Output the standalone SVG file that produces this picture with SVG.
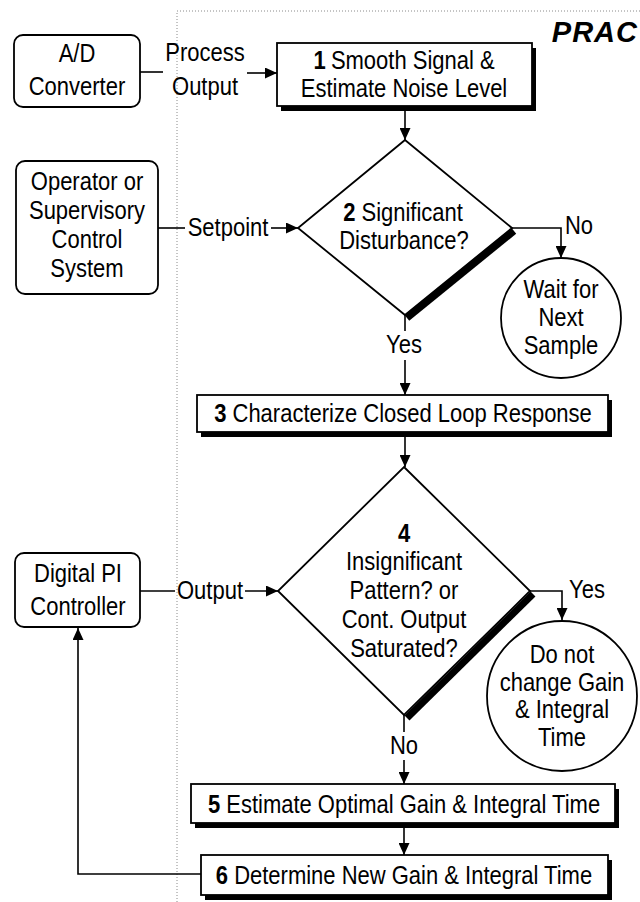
<svg xmlns="http://www.w3.org/2000/svg" width="640" height="902" viewBox="0 0 640 902">
  <style>
    text { font-family: "Liberation Sans", Arial, sans-serif; font-size: 25px; fill: #000; text-anchor: middle; }
    .t { transform-box: fill-box; transform-origin: center; transform: scaleX(0.88); }
    .b { font-weight: bold; }
    .title { font-size: 29px; font-weight: bold; font-style: italic; text-anchor: end; letter-spacing: 1px; }
    .box { fill: #fff; stroke: #000; stroke-width: 1.8; }
    .shadow { fill: #000; }
    .term { fill: #fff; stroke: #000; stroke-width: 1.8; }
    .dec { fill: #fff; stroke: #000; stroke-width: 1.8; }
    .heavy { fill: none; stroke: #000; stroke-width: 7; stroke-linecap: butt; }
    .ln { fill: none; stroke: #000; stroke-width: 1.6; }
    .arr { marker-end: url(#head); }
    .frame { fill: none; stroke: #8a8a8a; stroke-width: 1; stroke-dasharray: 1 2; }
  </style>
  <defs>
    <marker id="head" markerUnits="userSpaceOnUse" viewBox="0 0 12 11" refX="12" refY="5.5" markerWidth="12" markerHeight="11" orient="auto">
      <path d="M0,0 L12,5.5 L0,11 Z" fill="#000"/>
    </marker>
  </defs>

  <!-- dotted boundary of the PRAC block -->
  <path class="frame" d="M177,902 V11 H640"/>
  <text class="title" x="638" y="42">PRAC</text>

  <!-- connectors -->
  <g id="connectors">
    <path class="ln" d="M140,72 H163"/>
    <path class="ln arr" d="M247,73 H277"/>
    <path class="ln arr" d="M405,111 V140"/>
    <path class="ln" d="M158,228 H185"/>
    <path class="ln arr" d="M271,228 H298"/>
    <path class="ln arr" d="M512,228 H561 V258"/>
    <path class="ln" d="M405,315 V331"/>
    <path class="ln arr" d="M405,360 V395"/>
    <path class="ln arr" d="M405,437 V467"/>
    <path class="ln" d="M140,591 H175"/>
    <path class="ln arr" d="M245,591 H278"/>
    <path class="ln arr" d="M530,591 H562 V620"/>
    <path class="ln" d="M404,715 V732"/>
    <path class="ln arr" d="M404,760 V784"/>
    <path class="ln arr" d="M404,828 V855"/>
    <path class="ln arr" d="M201,874 H78 V628"/>
    <text class="t" x="205" y="61">Process</text>
    <text class="t" x="205" y="95">Output</text>
    <text class="t" x="228" y="236">Setpoint</text>
    <text class="t" x="579" y="234">No</text>
    <text class="t" x="404" y="353">Yes</text>
    <text class="t" x="210" y="599">Output</text>
    <text class="t" x="587" y="598">Yes</text>
    <text class="t" x="404" y="754">No</text>
  </g>

  <!-- external sources -->
  <g id="ad-converter">
    <rect class="term" x="14" y="35" width="126" height="72" rx="9"/>
    <text class="t" x="77" y="62">A/D</text>
    <text class="t" x="77" y="95">Converter</text>
  </g>
  <g id="operator">
    <rect class="term" x="16" y="161" width="142" height="133" rx="9"/>
    <text class="t" x="87" y="190">Operator or</text>
    <text class="t" x="87" y="219">Supervisory</text>
    <text class="t" x="87" y="248">Control</text>
    <text class="t" x="87" y="277">System</text>
  </g>
  <g id="pi-controller">
    <rect class="term" x="15" y="553" width="125" height="74" rx="9"/>
    <text class="t" x="78" y="582">Digital PI</text>
    <text class="t" x="78" y="615">Controller</text>
  </g>

  <!-- step 1 -->
  <g id="step1">
    <rect class="shadow" x="281" y="48" width="255" height="63"/>
    <rect class="box" x="277" y="43" width="255" height="63"/>
    <text class="t" x="404" y="69"><tspan class="b">1</tspan><tspan dx="6">Smooth Signal &amp;</tspan></text>
    <text class="t" x="404" y="97">Estimate Noise Level</text>
  </g>

  <!-- step 2 decision -->
  <g id="step2">
    <path class="dec" d="M405,140 L512,228 L405,315 L298,228 Z"/>
    <path class="heavy" d="M514,231 L407,318"/>
    <text class="t" x="403" y="221"><tspan class="b">2</tspan> Significant</text>
    <text class="t" x="404" y="249">Disturbance?</text>
  </g>

  <g id="wait">
    <circle class="term" cx="561" cy="318" r="60"/>
    <text class="t" x="561" y="298">Wait for</text>
    <text class="t" x="561" y="326">Next</text>
    <text class="t" x="561" y="354">Sample</text>
  </g>

  <!-- step 3 -->
  <g id="step3">
    <rect class="shadow" x="201" y="400" width="411" height="37"/>
    <rect class="box" x="197" y="395" width="411" height="37"/>
    <text class="t" x="403" y="422"><tspan class="b">3</tspan> Characterize Closed Loop Response</text>
  </g>

  <!-- step 4 decision -->
  <g id="step4">
    <path class="dec" d="M404,467 L530,591 L404,715 L278,591 Z"/>
    <path class="heavy" d="M533,594 L407,718"/>
    <text class="t b" x="404" y="542">4</text>
    <text class="t" x="404" y="570">Insignificant</text>
    <text class="t" x="404" y="599">Pattern? or</text>
    <text class="t" x="404" y="628">Cont. Output</text>
    <text class="t" x="404" y="657">Saturated?</text>
  </g>

  <g id="keep-tuning">
    <circle class="term" cx="562" cy="696" r="75"/>
    <text class="t" x="562" y="663">Do not</text>
    <text class="t" x="562" y="691">change Gain</text>
    <text class="t" x="562" y="718">&amp; Integral</text>
    <text class="t" x="562" y="746">Time</text>
  </g>

  <!-- step 5 -->
  <g id="step5">
    <rect class="shadow" x="195" y="789" width="424" height="39"/>
    <rect class="box" x="191" y="784" width="424" height="39"/>
    <text class="t" x="404" y="813"><tspan class="b">5</tspan> Estimate Optimal Gain &amp; Integral Time</text>
  </g>

  <!-- step 6 -->
  <g id="step6">
    <rect class="shadow" x="205" y="860" width="407" height="40"/>
    <rect class="box" x="201" y="855" width="407" height="40"/>
    <text class="t" x="404" y="884"><tspan class="b">6</tspan> Determine New Gain &amp; Integral Time</text>
  </g>
</svg>
